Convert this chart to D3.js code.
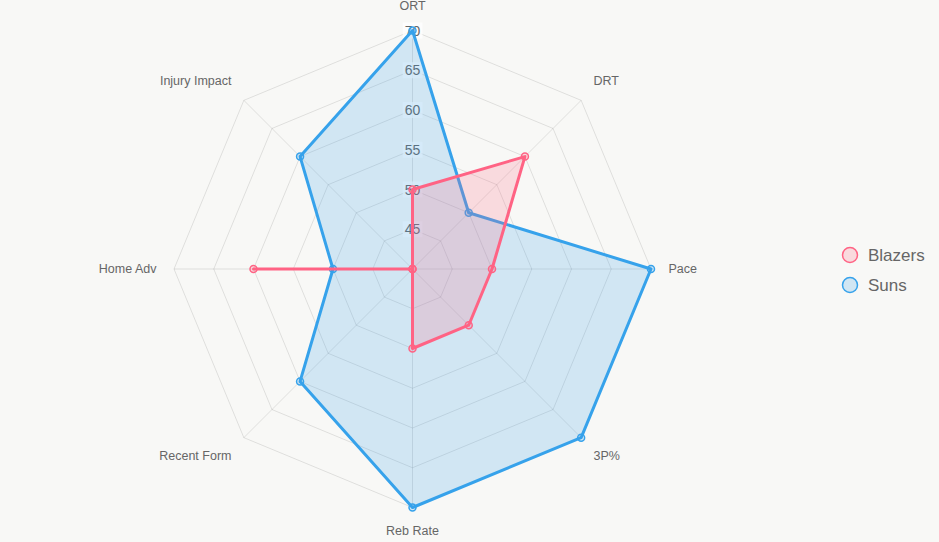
<!DOCTYPE html>
<html>
<head>
<meta charset="utf-8">
<script src="https://cdn.jsdelivr.net/npm/d3@7"></script>
<style>
  html, body { margin: 0; padding: 0; background: #f8f8f6; }
  svg { display: block; font-family: "Liberation Sans", Arial, Helvetica, sans-serif; }
</style>
</head>
<body>
<div id="chart"></div>
<script>
// chart values
var axes = ["ORT", "DRT", "Pace", "3P%", "Reb Rate", "Recent Form", "Home Adv", "Injury Impact"];
var blazers = [50, 60, 50, 50, 50, 40, 60, 40];
var suns = [70, 50, 70, 70, 70, 60, 50, 60];
var tickValues = [45, 50, 55, 60, 65, 70];
var seriesNames = ["Blazers", "Suns"];
var seriesColors = ["rgb(255,99,132)", "rgb(54,162,235)"];
var seriesFills = ["rgba(255,99,132,0.2)", "rgba(54,162,235,0.2)"];

var width = 939, height = 542;
var cx = 412.5, cy = 269, radius = 238.5;

var svg = d3.select("#chart").append("svg")
    .attr("width", width)
    .attr("height", height);

var rScale = d3.scaleLinear().domain([40, 70]).range([0, radius]);
var angle = function(i){ return i * 2 * Math.PI / axes.length; };
// point at a given distance along axis i (0 = straight up)
var pos = function(i, r){
    return [cx + r * Math.sin(angle(i)), cy - r * Math.cos(angle(i))];
};

// grid rings (octagons)
var grid = svg.append("g").attr("class", "grid");
tickValues.forEach(function(t){
    var pts = axes.map(function(a, i){ return pos(i, rScale(t)); });
    grid.append("polygon")
        .attr("points", pts.map(function(p){ return p.join(","); }).join(" "))
        .attr("fill", "none")
        .attr("stroke", "rgba(0,0,0,0.1)")
        .attr("stroke-width", 1);
});

// angle lines
axes.forEach(function(a, i){
    var p = pos(i, rScale(70));
    grid.append("line")
        .attr("x1", cx).attr("y1", cy)
        .attr("x2", p[0]).attr("y2", p[1])
        .attr("stroke", "rgba(0,0,0,0.1)")
        .attr("stroke-width", 1);
});

// tick labels with backdrop
var ticks = svg.append("g").attr("class", "ticks");
tickValues.forEach(function(t){
    var y = cy - rScale(t);
    var g = ticks.append("g");
    var txt = g.append("text")
        .attr("x", cx)
        .attr("y", y + 5)
        .attr("text-anchor", "middle")
        .attr("font-size", 14)
        .attr("fill", "#666")
        .text(t);
    var bb = txt.node().getBBox();
    g.insert("rect", "text")
        .attr("x", bb.x - 2)
        .attr("y", y - 8)
        .attr("width", bb.width + 4)
        .attr("height", 16)
        .attr("fill", "rgba(255,255,255,0.75)");
});

// point labels
var labels = svg.append("g").attr("class", "point-labels");
axes.forEach(function(a, i){
    var p = pos(i, 256);
    var s = Math.sin(angle(i)), c = Math.cos(angle(i));
    var anchor = Math.abs(s) < 0.01 ? "middle" : (s > 0 ? "start" : "end");
    var y;
    if (Math.abs(c) < 0.01) y = p[1] + 4;        // vertically centred
    else if (c > 0) y = p[1] - 3;                // text sits above
    else y = p[1] + 10;                          // text hangs below
    labels.append("text")
        .attr("x", p[0])
        .attr("y", y)
        .attr("text-anchor", anchor)
        .attr("font-size", 12.5)
        .attr("fill", "#666")
        .text(a);
});

// datasets, drawn last-first so Blazers ends on top
var line = d3.lineRadial()
    .angle(function(d, i){ return angle(i); })
    .radius(function(d){ return rScale(d); })
    .curve(d3.curveLinearClosed);

var series = [blazers, suns];
var plot = svg.append("g").attr("transform", "translate(" + cx + "," + cy + ")");
for (var k = series.length - 1; k >= 0; k--) {
    var g = plot.append("g").attr("class", "series-" + seriesNames[k]);
    g.append("path")
        .attr("d", line(series[k]))
        .attr("fill", seriesFills[k])
        .attr("stroke", seriesColors[k])
        .attr("stroke-width", 3)
        .attr("stroke-linejoin", "round");
    g.selectAll("circle")
        .data(series[k])
        .enter()
        .append("circle")
        .attr("cx", function(d, i){ return rScale(d) * Math.sin(angle(i)); })
        .attr("cy", function(d, i){ return -rScale(d) * Math.cos(angle(i)); })
        .attr("r", 3.5)
        .attr("fill", seriesFills[k])
        .attr("stroke", seriesColors[k])
        .attr("stroke-width", 1.5);
}

// legend
var legend = svg.append("g").attr("class", "legend");
seriesNames.forEach(function(name, k){
    var y = 255 + k * 30;
    legend.append("circle")
        .attr("cx", 850).attr("cy", y).attr("r", 7.5)
        .attr("fill", seriesFills[k])
        .attr("stroke", seriesColors[k])
        .attr("stroke-width", 1.5);
    legend.append("text")
        .attr("x", 868).attr("y", y + 6)
        .attr("font-size", 17)
        .attr("fill", "#666")
        .text(name);
});
</script>
</body>
</html>
